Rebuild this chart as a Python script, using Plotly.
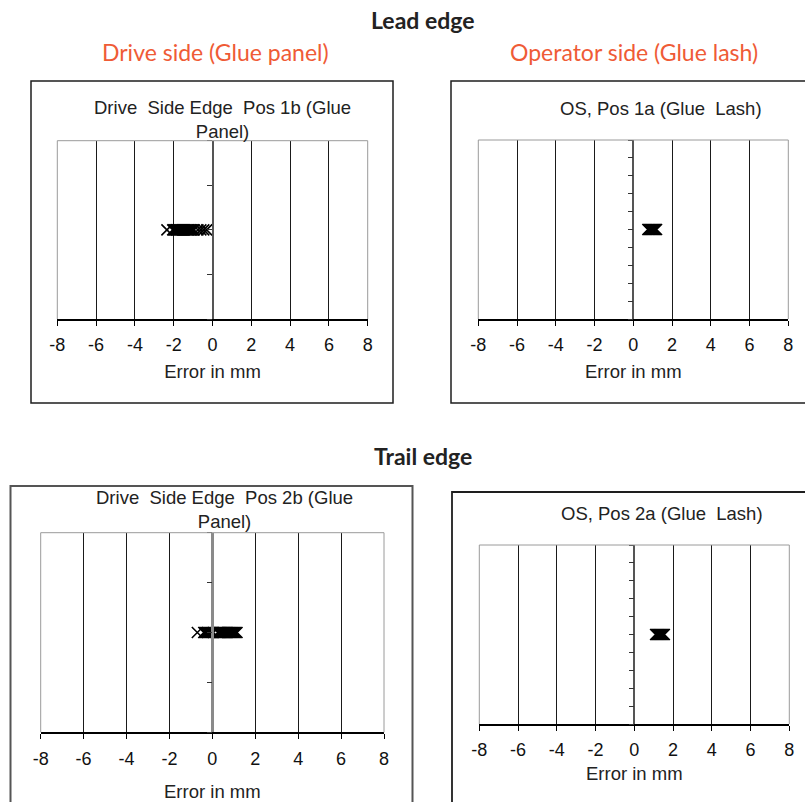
import plotly.graph_objects as go

W, H = 805, 802

# ---------------- data ----------------
x_tick_values = [-8, -6, -4, -2, 0, 2, 4, 6, 8]
panel_titles = [
    "Drive  Side Edge  Pos 1b (Glue<br>Panel)",
    "OS, Pos 1a (Glue  Lash)",
    "Drive  Side Edge  Pos 2b (Glue<br>Panel)",
    "OS, Pos 2a (Glue  Lash)",
]
x_axis_title = "Error in mm"
section_titles = ["Lead edge", "Trail edge"]
column_titles = ["Drive side (Glue panel)", "Operator side (Glue lash)"]

# error in mm for each measured sheet (all plotted on a single row)
pos1b_error = [-2.35, -2.05, -2.0, -1.95, -1.9, -1.85, -1.8, -1.75, -1.7, -1.65,
               -1.6, -1.55, -1.5, -1.45, -1.4, -1.35, -1.3, -1.25, -1.2, -1.15,
               -1.1, -1.05, -1.0, -0.95, -0.75, -0.6, -0.45, -0.3]
pos1a_error = [0.75, 0.8, 0.85, 0.9, 0.95, 1.0, 1.05, 1.1, 1.15, 1.2]
pos2b_error = [-0.7, -0.4, -0.35, -0.3, -0.25, -0.2, -0.15, -0.1, -0.05, 0.0,
               0.05, 0.25, 0.3, 0.35, 0.4, 0.45, 0.5, 0.55, 0.6, 0.65, 0.7,
               0.75, 0.8, 0.85, 0.9, 0.95, 1.0, 1.05, 1.1, 1.15]
pos2a_error = [1.1, 1.15, 1.2, 1.25, 1.3, 1.35, 1.4, 1.45, 1.5, 1.55]

series = [pos1b_error, pos1a_error, pos2b_error, pos2a_error]
# y-axis layout for each chart: (range, tick step); points sit on the middle row
y_ranges = [(-2, 2), (-5, 5), (-2, 2), (-5, 5)]
y_steps = [1, 1, 1, 1]
y_row = 0

# ---------------- layout geometry (pixels) ----------------
plot_px = [  # x0, x1, y0(top), y1(bottom)
    (57.3, 367.7, 140.7, 319.0),
    (478.3, 788.3, 140.0, 319.0),
    (40.7, 384.0, 532.7, 732.3),
    (479.3, 789.3, 545.0, 724.0),
]
box_px = [  # x0, y0, x1, y1
    (31, 81, 393, 403, "#1e1e1e", 1.5),
    (451, 81, 820, 403, "#1e1e1e", 1.5),
    (10.5, 486, 412.5, 806, "#555555", 2),
    (452, 492, 820, 806, "#1e1e1e", 1.8),
]
title_px = [(223, 119), (661, 108), (225, 509), (662, 513)]
title_standoff = [11, 11, 17, 8]
yaxis_style = [("#555555", 1.5), ("#555555", 1.5), ("#8a8a8a", 2.5), ("#555555", 1.5)]

def px_x(v):
    return v / W

def px_y(v):
    return 1 - v / H

fig = go.Figure()
shapes = []
annotations = []
FONT = "Liberation Sans, Arial, sans-serif"

for i in range(4):
    n = "" if i == 0 else str(i + 1)
    x0, x1, yt, yb = plot_px[i]
    xd = [px_x(x0), min(px_x(x1), 1.0)]
    yd = [px_y(yb), px_y(yt)]
    fig.add_trace(go.Scatter(
        x=series[i], y=[y_row] * len(series[i]),
        mode="markers",
        marker=dict(symbol="x-thin", size=11, line=dict(color="black", width=1.6)),
        xaxis="x" + n, yaxis="y" + n, showlegend=False, hoverinfo="x",
    ))
    fig.layout["xaxis" + n] = dict(
        domain=xd, range=[-8, 8], tickvals=x_tick_values, ticktext=[str(v) for v in x_tick_values],
        showgrid=True, gridcolor="#1a1a1a", gridwidth=1, zeroline=False,
        showline=True, linecolor="black", linewidth=1.5,
        ticks="outside", ticklen=5, tickcolor="black", tickwidth=1.2,
        tickfont=dict(family=FONT, size=18, color="#111"),
        ticklabelstandoff=4, automargin=False,
        anchor="y" + n, fixedrange=True,
        title=dict(text=x_axis_title, font=dict(family=FONT, size=18.5, color="#222"),
                   standoff=title_standoff[i]),
    )
    ycol, yw = yaxis_style[i]
    fig.layout["yaxis" + n] = dict(
        domain=yd, range=list(y_ranges[i]), dtick=y_steps[i],
        showgrid=False, zeroline=False, showticklabels=False,
        showline=True, linecolor=ycol, linewidth=yw,
        ticks="outside", ticklen=5, tickcolor="#333", tickwidth=1.2, automargin=False,
        anchor="free", position=(xd[0] + xd[1]) / 2, fixedrange=True,
    )
    xr = "x" + n + " domain"
    yr = "y" + n + " domain"
    for (a, b, c, d) in [(0, 0, 0, 1), (0, 1, 1, 1), (1, 0, 1, 1)]:
        shapes.append(dict(type="line", xref=xr, yref=yr, x0=a, y0=b, x1=c, y1=d,
                           line=dict(color="#9a9a9a", width=1), layer="above"))
    bx0, by0, bx1, by1, bc, bw = box_px[i]
    shapes.append(dict(type="rect", xref="paper", yref="paper",
                       x0=px_x(bx0), x1=px_x(bx1), y0=px_y(by1), y1=px_y(by0),
                       line=dict(color=bc, width=bw), layer="below"))
    tx, ty = title_px[i]
    annotations.append(dict(text=panel_titles[i], xref="paper", yref="paper",
                            x=px_x(tx), y=px_y(ty), xanchor="center", yanchor="middle",
                            showarrow=False, font=dict(family=FONT, size=18.5, color="#222")))

HFONT = "Lato, Open Sans, sans-serif"
annotations.append(dict(text="<b>" + section_titles[0] + "</b>", xref="paper", yref="paper",
                        x=px_x(423), y=px_y(20), xanchor="center", yanchor="middle",
                        showarrow=False, font=dict(family=HFONT, size=23, color="#222")))
annotations.append(dict(text="<b>" + section_titles[1] + "</b>", xref="paper", yref="paper",
                        x=px_x(422.5), y=px_y(456), xanchor="center", yanchor="middle",
                        showarrow=False, font=dict(family=HFONT, size=23, color="#222")))
annotations.append(dict(text=column_titles[0], xref="paper", yref="paper",
                        x=px_x(216), y=px_y(52), xanchor="center", yanchor="middle",
                        showarrow=False, font=dict(family=HFONT, size=23, color="#EF5B36")))
annotations.append(dict(text=column_titles[1], xref="paper", yref="paper",
                        x=px_x(634), y=px_y(52), xanchor="center", yanchor="middle",
                        showarrow=False, font=dict(family=HFONT, size=23, color="#EF5B36")))

fig.update_layout(
    width=W, height=H, autosize=False, margin=dict(l=0, r=0, t=0, b=0),
    paper_bgcolor="white", plot_bgcolor="white",
    shapes=shapes, annotations=annotations, showlegend=False,
)

fig.write_html(
    "out.html",
    config={"displayModeBar": False, "responsive": False},
    post_script=(
        "var s=document.createElement('style');"
        "s.textContent='html,body{margin:0!important;padding:0!important;overflow:hidden!important;}';"
        "document.head.appendChild(s);"
    ),
)
